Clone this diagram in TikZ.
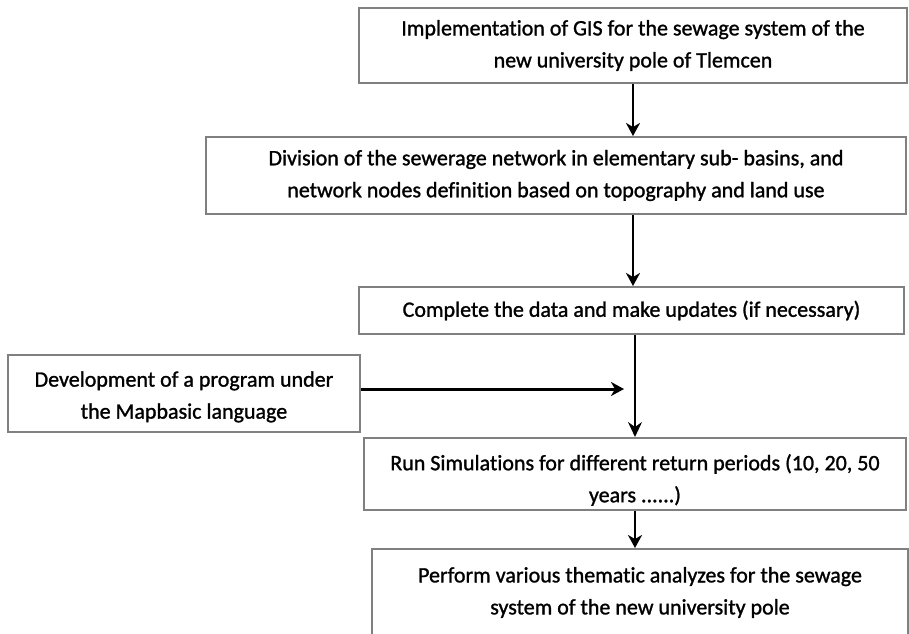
\documentclass[tikz,border=0pt]{standalone}
\usepackage{fontspec}
\setmainfont[Ligatures=NoCommon,FakeBold=1.2]{Carlito}
\usetikzlibrary{arrows.meta,calc}
\begin{document}
\begin{tikzpicture}[x=1pt,y=-1pt,
  box/.style={draw={rgb,255:red,128;green,128;blue,128}, line width=2pt, fill=white,
    align=center, inner sep=0pt, font=\fontsize{22}{32}\selectfont, text=black},
  arr/.style={-{Stealth[length=13pt,width=14pt,inset=4pt]}, line width=2.4pt, black},
  thinarr/.style={-{Stealth[length=15pt,width=14pt,inset=5pt]}, line width=1.6pt, black}]
\useasboundingbox (0,0) rectangle (909,633);
\clip (0,0) rectangle (909,633);
\node[box, minimum width=548pt, minimum height=75pt] (b1) at (633,45.5)
  {Implementation of GIS for the sewage system of the\\new university pole of Tlemcen};
\node[box, minimum width=700pt, minimum height=77pt] (b2) at (556,175.5)
  {Division of the sewerage network in elementary sub- basins, and\\network nodes definition based on topography and land use};
\node[box, minimum width=545pt, minimum height=47pt] (b3) at (631.5,310.5)
  {Complete the data and make updates (if necessary)};
\node[box, minimum width=352pt, minimum height=77pt] (b4) at (184,393.5)
  {\rule{0pt}{22pt}Development of a program under\\the Mapbasic language};
\node[box, minimum width=542pt, minimum height=72pt] (b5) at (635,474)
  {\rule{0pt}{28pt}Run Simulations for different return periods (10, 20, 50\\years ......)};
\node[box, minimum width=536pt, minimum height=87pt] (b6) at (640,592.5)
  {Perform various thematic analyzes for the sewage\\system of the new university pole};
\coordinate (h) at (624,389);
\draw[arr] (b1.south) -- (b2.north -| b1.south);
\draw[arr] (b2.south -| b1.south) -- (b3.north -| b1.south);
\draw[arr, line width=3pt] (b4.east |- h) -- (h);
\draw[thinarr] (b3.south -| b5.north) -- (b5.north);
\draw[arr] (b5.south) -- (b6.north -| b5.south);
\end{tikzpicture}
\end{document}
